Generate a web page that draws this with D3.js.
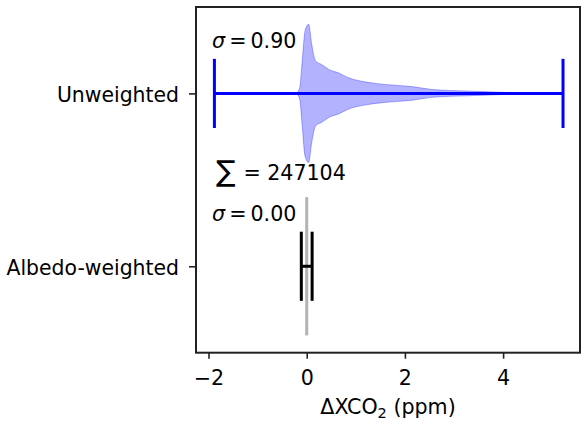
<html lang="en">
<head>
  <script src="https://d3js.org/d3.v7.min.js"></script>
  <style>
    body { margin: 0; background: white; }
    svg text { font-family: "DejaVu Sans", sans-serif; }
  </style>
</head>
<body>
  <svg id="chart" width="587" height="424" style="background: white"></svg>
  <script>
    // categories sit at y = 1 and y = 2
    const categories = ["Albedo-weighted", "Unweighted"];
    const catPos = [1, 2];
    const sigmaLabels = ["0.00", "0.90"];
    const errLow = [-0.11, -1.88];
    const errHigh = [0.11, 5.22];
    const xTicks = [-2, 0, 2, 4];
    const totalCount = 247104;

    // unweighted violin outline (normalised half width)
    const violinX = [-0.21, -0.14, -0.10, -0.03, 0.04, 0.10, 0.18, 0.30, 0.50, 0.64, 0.84, 1.25, 1.59, 2.14, 2.55, 3.24, 3.92, 4.6];
    const violinDensity = [0, 0.09, 0.40, 0.92, 1.0, 0.72, 0.47, 0.42, 0.33, 0.30, 0.23, 0.16, 0.13, 0.10, 0.057, 0.035, 0.018, 0];
    // albedo-weighted violin collapses to a single value
    const albedoValue = 0.0;

    const svg = d3.select("#chart");
    const width = +svg.attr("width");
    const height = +svg.attr("height");
    const margin = { top: 7, right: 7, bottom: 71.3, left: 196 };

    const x = d3.scaleLinear().domain([-2.255, 5.566]).range([margin.left, width - margin.right]);
    const y = d3.scaleLinear().domain([0.5, 2.5]).range([height - margin.bottom, margin.top]);

    const halfWidth = 0.4;
    const capHalf = 0.2;

    // violin body
    const violinData = violinX.map((v, i) => ({ v: v, d: violinDensity[i] }));
    const area = d3.area()
      .x(d => x(d.v))
      .y0(d => y(2 - d.d * halfWidth))
      .y1(d => y(2 + d.d * halfWidth))
      .curve(d3.curveMonotoneX);

    svg.append("path")
      .datum(violinData)
      .attr("d", area)
      .attr("fill", "blue")
      .attr("fill-opacity", 0.3)
      .attr("stroke", "blue")
      .attr("stroke-opacity", 0.3)
      .attr("stroke-width", 1);

    svg.append("line")
      .attr("x1", x(albedoValue)).attr("x2", x(albedoValue))
      .attr("y1", y(1 + halfWidth)).attr("y2", y(1 - halfWidth))
      .attr("stroke", "#b3b3b3")
      .attr("stroke-width", 3);

    // error bars
    const colors = ["black", "blue"];
    catPos.forEach((p, i) => {
      const g = svg.append("g").attr("stroke", colors[i]).attr("stroke-width", 3);
      g.append("line")
        .attr("x1", x(errLow[i])).attr("x2", x(errHigh[i]))
        .attr("y1", y(p)).attr("y2", y(p));
      [errLow[i], errHigh[i]].forEach(v => {
        g.append("line")
          .attr("x1", x(v)).attr("x2", x(v))
          .attr("y1", y(p - capHalf)).attr("y2", y(p + capHalf));
      });
    });

    // sigma labels
    catPos.forEach((p, i) => {
      const t = svg.append("text")
        .attr("x", x(-1.93))
        .attr("y", y(p + 0.262))
        .attr("font-size", "20.6px")
        .attr("fill", "black");
      t.append("tspan").attr("font-style", "italic").text("σ");
      t.append("tspan").text("\u2009=\u20090" + sigmaLabels[i].slice(1));
    });

    // sum label
    svg.append("text")
      .attr("x", x(-1.85))
      .attr("y", y(1.5) + 1.5)
      .attr("font-size", "29px")
      .text("\u2211");
    svg.append("text")
      .attr("x", x(-1.29))
      .attr("y", y(1.5) + 0.5)
      .attr("font-size", "20.6px")
      .text("= " + totalCount);

    // axes frame
    svg.append("rect")
      .attr("x", margin.left).attr("y", margin.top)
      .attr("width", width - margin.left - margin.right)
      .attr("height", height - margin.top - margin.bottom)
      .attr("fill", "none")
      .attr("stroke", "#222")
      .attr("stroke-width", 2);

    const xAxis = svg.append("g")
      .attr("transform", "translate(0," + (height - margin.bottom) + ")")
      .call(d3.axisBottom(x).tickValues(xTicks).tickSize(6).tickFormat(d => d < 0 ? "\u2212" + Math.abs(d) : d));
    xAxis.select(".domain").remove();
    xAxis.selectAll(".tick line").attr("stroke", "#222").attr("stroke-width", 1.6);
    xAxis.selectAll(".tick text")
      .attr("y", 32.3).attr("dy", 0)
      .attr("font-size", "20.6px")
      .attr("font-family", "DejaVu Sans")
      .attr("fill", "black");

    const yAxis = svg.append("g")
      .attr("transform", "translate(" + margin.left + ",0)")
      .call(d3.axisLeft(y).tickValues(catPos).tickSize(7).tickPadding(10).tickFormat((d, i) => categories[i]));
    yAxis.select(".domain").remove();
    yAxis.selectAll(".tick line").attr("stroke", "#222").attr("stroke-width", 1.6);
    yAxis.selectAll(".tick text")
      .attr("dy", "0.38em")
      .attr("font-size", "20.4px")
      .attr("font-family", "DejaVu Sans")
      .attr("fill", "black");

    // x label
    const xl = svg.append("text")
      .attr("x", (margin.left + width - margin.right) / 2)
      .attr("y", 414)
      .attr("text-anchor", "middle")
      .attr("font-size", "20.6px")
      .attr("fill", "black");
    xl.append("tspan").text("ΔXCO");
    xl.append("tspan").attr("font-size", "14.5px").attr("dy", 4).text("2");
    xl.append("tspan").attr("dy", -4).text(" (ppm)");
  </script>
</body>
</html>
